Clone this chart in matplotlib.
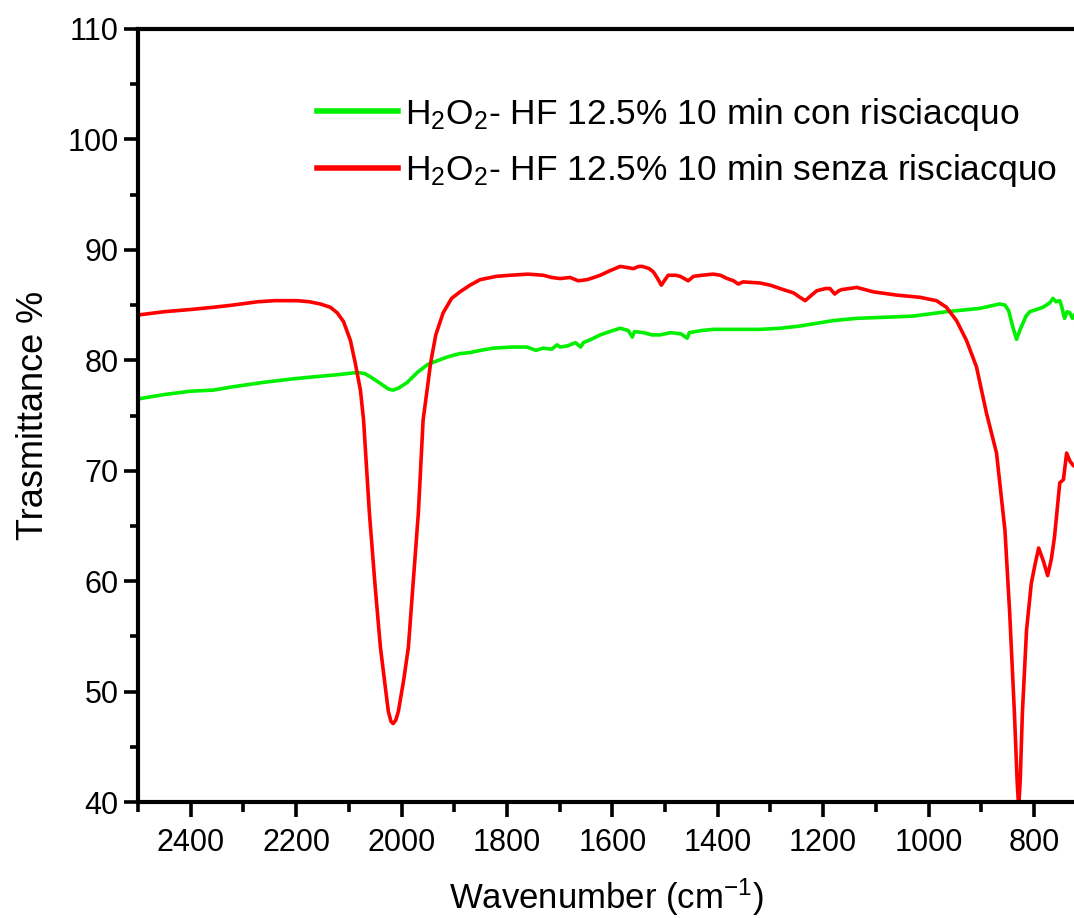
import matplotlib
matplotlib.use("Agg")
import matplotlib.pyplot as plt
from matplotlib.ticker import MultipleLocator

plt.rcParams['font.family'] = ['Liberation Sans', 'DejaVu Sans']
plt.rcParams['mathtext.fontset'] = 'custom'
plt.rcParams['mathtext.rm'] = 'Liberation Sans'
plt.rcParams['mathtext.it'] = 'Liberation Sans'

# Red: senza risciacquo
red_x = [2500, 2450, 2400, 2357, 2320, 2273, 2240, 2198, 2175, 2154, 2135, 2122, 2110,
         2097, 2088, 2078, 2072, 2061, 2050, 2040, 2031, 2025, 2020, 2016, 2011, 2006, 1996,
         1987, 1978, 1968, 1959, 1949, 1945, 1935, 1921, 1905, 1889, 1870, 1851, 1820,
         1794, 1760, 1731, 1715, 1699, 1680, 1665, 1648, 1635, 1623, 1605, 1585, 1572,
         1560, 1550, 1543, 1530, 1522, 1514, 1507, 1500, 1494, 1480, 1471, 1456, 1446,
         1430, 1408, 1395, 1382, 1370, 1361, 1352, 1320, 1300, 1282, 1256, 1244, 1234,
         1222, 1212, 1195, 1187, 1178, 1170, 1165, 1136, 1105, 1060, 1016, 985, 966, 947,
         928, 909, 890, 871, 855, 846, 837, 832, 829, 826, 822, 814, 805, 798, 791, 782,
         774, 767, 761, 751, 744, 738, 732, 726, 720]
red_y = [84.1, 84.4, 84.6, 84.8, 85.0, 85.3, 85.4, 85.4, 85.3, 85.1, 84.8, 84.3, 83.5,
         81.8, 79.8, 77.3, 74.6, 66.2, 59.5, 54.0, 50.5, 48.2, 47.3, 47.1, 47.4, 48.2, 51.0,
         54.0, 59.8, 66.2, 74.6, 78.2, 79.7, 82.3, 84.3, 85.6, 86.2, 86.8, 87.3, 87.6,
         87.7, 87.8, 87.7, 87.5, 87.4, 87.5, 87.2, 87.3, 87.5, 87.7, 88.1, 88.5, 88.4,
         88.3, 88.5, 88.5, 88.3, 88.0, 87.4, 86.8, 87.3, 87.7, 87.7, 87.6, 87.2, 87.6,
         87.7, 87.8, 87.7, 87.4, 87.2, 86.9, 87.1, 87.0, 86.8, 86.5, 86.1, 85.7, 85.4,
         85.9, 86.3, 86.5, 86.5, 86.0, 86.3, 86.4, 86.6, 86.2, 85.9, 85.7, 85.4, 84.8, 83.6,
         81.8, 79.4, 75.2, 71.6, 64.6, 57.1, 48.0, 42.0, 39.5, 42.0, 48.0, 55.6, 59.8, 61.5,
         63.0, 61.8, 60.5, 62.0, 64.0, 68.9, 69.2, 71.6, 70.9, 70.5, 70.3]

# Green: con risciacquo
green_x = [2500, 2450, 2400, 2357, 2320, 2262, 2210, 2167, 2120, 2084, 2070, 2059, 2040,
           2025, 2016, 2005, 1989, 1970, 1951, 1930, 1913, 1890, 1870, 1850, 1826, 1790,
           1762, 1745, 1731, 1715, 1705, 1699, 1685, 1670, 1660, 1655, 1640, 1623, 1605,
           1585, 1570, 1562, 1558, 1540, 1525, 1509, 1490, 1470, 1458, 1454, 1430, 1408,
           1370, 1320, 1282, 1244, 1219, 1180, 1136, 1080, 1030, 966, 903, 865, 855, 848,
           840, 833, 826, 815, 808, 795, 783, 770, 764, 758, 751, 747, 742, 737, 732, 727, 722]
green_y = [76.5, 76.9, 77.2, 77.3, 77.6, 78.0, 78.3, 78.5, 78.7, 78.9, 78.8, 78.5, 77.9,
           77.4, 77.3, 77.5, 78.0, 78.9, 79.6, 80.0, 80.3, 80.6, 80.7, 80.9, 81.1, 81.2,
           81.2, 80.9, 81.1, 81.0, 81.4, 81.2, 81.3, 81.6, 81.2, 81.6, 81.9, 82.3, 82.6,
           82.9, 82.7, 82.1, 82.6, 82.5, 82.3, 82.3, 82.5, 82.4, 82.0, 82.5, 82.7, 82.8,
           82.8, 82.8, 82.9, 83.1, 83.3, 83.6, 83.8, 83.9, 84.0, 84.4, 84.7, 85.1, 85.0, 84.5,
           83.0, 81.9, 82.8, 84.0, 84.4, 84.6, 84.8, 85.2, 85.6, 85.3, 85.4, 84.8, 83.8, 84.4,
           84.3, 83.8, 84.2]

labels = [r"H$_2$O$_2$- HF 12.5% 10 min con risciacquo",
          r"H$_2$O$_2$- HF 12.5% 10 min senza risciacquo"]

fig = plt.figure(figsize=(10.74, 9.18), dpi=100)
ax = fig.add_axes([138/1074, 1 - 802/918, 1 - 138/1074, (802 - 29)/918])

ax.plot(green_x, green_y, color='#00f000', lw=2.6, label=labels[0])
ax.plot(red_x, red_y, color='#ff0000', lw=2.6, label=labels[1])

ax.set_xlim(2500, 724)
ax.set_ylim(40, 110)
ax.xaxis.set_major_locator(MultipleLocator(200))
ax.xaxis.set_minor_locator(MultipleLocator(100))
ax.yaxis.set_major_locator(MultipleLocator(10))
ax.yaxis.set_minor_locator(MultipleLocator(5))

for s in ['left', 'bottom', 'top']:
    ax.spines[s].set_linewidth(3.0)
ax.spines['right'].set_visible(False)

ax.tick_params(axis='both', which='major', direction='out', width=2.6, labelsize=22,
               top=False, right=False)
ax.tick_params(axis='x', which='major', length=11, pad=8)
ax.tick_params(axis='y', which='major', length=10, pad=4)
ax.tick_params(axis='x', which='minor', direction='out', width=2.6, length=7, top=False)
ax.tick_params(axis='y', which='minor', direction='out', width=2.6, length=6, right=False)

ax.set_xlabel(r"Wavenumber (cm$^{-1}$)", fontsize=25, labelpad=13)
ax.set_ylabel("Trasmittance %", fontsize=26, labelpad=12)

leg = ax.legend(loc='upper left', bbox_to_anchor=(0.176, 0.932), frameon=False,
                fontsize=25.5, handlelength=2.3, handletextpad=0.2, labelspacing=0.55,
                borderaxespad=0)
for h in leg.get_lines():
    h.set_linewidth(4)

fig.savefig("out.png", dpi=100)
